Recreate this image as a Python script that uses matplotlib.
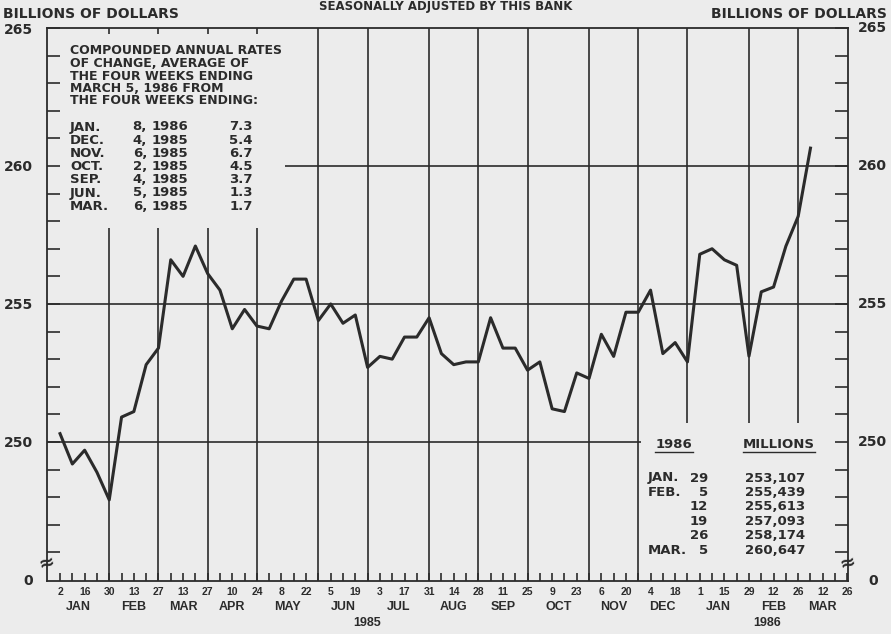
import matplotlib.pyplot as plt
import numpy as np
import pandas as pd
from matplotlib.patches import Rectangle
from matplotlib.lines import Line2D

# valores semanais (bilhoes de dolares), quartas-feiras a partir de 2 jan 1985
semanal = [250.3, 249.2, 249.7, 248.9, 247.9, 250.9, 251.1, 252.8, 253.4, 256.6,
           256.0, 257.1, 256.1, 255.5, 254.1, 254.8, 254.2, 254.1, 255.1, 255.9,
           255.9, 254.4, 255.0, 254.3, 254.6, 252.7, 253.1, 253.0, 253.8, 253.8,
           254.5, 253.2, 252.8, 252.9, 252.9, 254.5, 253.4, 253.4, 252.6, 252.9,
           251.2, 251.1, 252.5, 252.3, 253.9, 253.1, 254.7, 254.7, 255.5, 253.2,
           253.6, 252.9, 256.8, 257.0, 256.6, 256.4]

# tabela 1986 (milhoes)
tab_mes = ['JAN.', 'FEB.', '', '', '', 'MAR.']
tab_dia = [29, 5, 12, 19, 26, 5]
tab_val = [253107, 255439, 255613, 257093, 258174, 260647]

# taxas anuais compostas
taxa_mes = ['JAN.', 'DEC.', 'NOV.', 'OCT.', 'SEP.', 'JUN.', 'MAR.']
taxa_dia = [8, 4, 6, 2, 4, 5, 6]
taxa_ano = [1986, 1985, 1985, 1985, 1985, 1985, 1985]
taxa_val = [7.3, 5.4, 6.7, 4.5, 3.7, 1.3, 1.7]

titulo_caixa = ['COMPOUNDED ANNUAL RATES', 'OF CHANGE, AVERAGE OF',
                'THE FOUR WEEKS ENDING', 'MARCH 5, 1986 FROM',
                'THE FOUR WEEKS ENDING:']

rotulos_y = [250, 255, 260, 265]

valores = semanal + [v / 1000 for v in tab_val]
datas = pd.date_range('1985-01-02', '1986-03-26', freq='7D')
semanas = np.arange(len(datas))

PAPEL = '#ececec'
TINTA = '#2b2b2b'
W, H = 891, 634
NEG = dict(family='DejaVu Sans', weight='bold', color=TINTA)
NAR = dict(family='Liberation Sans', weight='bold', color=TINTA)

fig = plt.figure(figsize=(W / 100, H / 100), dpi=100, facecolor=PAPEL)
ax = fig.add_axes([47 / W, (H - 581) / H, (848 - 47) / W, (581 - 28) / H])
ax.set_facecolor(PAPEL)

def ftext(x, y, s, **kw):
    fig.text(x / W, 1 - y / H, s, **kw)

ax.set_xlim(-1.06, 64.05)
ax.set_ylim(244.96, 265)

# linhas de grade: ultima quarta-feira de cada mes
grade = [i for i in range(len(datas) - 1) if datas[i + 1].month != datas[i].month]
for g in grade:
    ax.axvline(g, color=TINTA, lw=1.2, zorder=1)
for h in rotulos_y[:-1]:
    ax.axhline(h, color=TINTA, lw=1.2, zorder=1)

# areas de texto escondem a grade
ax.add_patch(Rectangle((-0.95, 257.75), 19.25, 7.03, facecolor=PAPEL,
                       edgecolor='none', zorder=1.5))
ax.add_patch(Rectangle((47.2, 244.9), 17, 5.79, facecolor=PAPEL,
                       edgecolor='none', zorder=1.5))

ax.plot(semanas[:len(valores)], valores, color=TINTA, lw=2.2, zorder=3)

for s in ax.spines.values():
    s.set_color(TINTA)
    s.set_linewidth(1.3)

ax.set_yticks(rotulos_y)
ax.set_yticks([v for v in range(246, 265) if v % 5], minor=True)
ax.tick_params(axis='y', which='both', direction='in', left=True, right=True,
               length=9.4, width=1.2, color=TINTA, pad=10, labelsize=10,
               labelcolor=TINTA)
for lab in ax.get_yticklabels():
    lab.set_fontweight('bold')
    lab.set_family('DejaVu Sans')
# rotulos da direita
for v in rotulos_y:
    yp = 28 + (265 - v) / (265 - 244.96) * 553
    ftext(858, yp, str(v), ha='left', va='center', fontsize=10, **NEG)

pares = semanas[::2]
ax.set_xticks(pares)
ax.set_xticklabels([str(datas[i].day) for i in pares])
ax.set_xticks(semanas[1::2], minor=True)
ax.tick_params(axis='x', which='both', direction='in', length=6, width=1.2,
               color=TINTA, pad=4, labelsize=7.5, labelcolor=TINTA)
for lab in ax.get_xticklabels():
    lab.set_fontweight('bold')
    lab.set_family('Liberation Sans')

# meses e anos
limites = [-1] + grade + [len(datas) - 1]
trans = ax.get_xaxis_transform()
for a, b in zip(limites[:-1], limites[1:]):
    ax.text((a + b) / 2, -26 / 553, datas[a + 1].strftime('%b').upper(),
            transform=trans, ha='center', va='center', fontsize=9, **NAR)
anos = sorted(set(d.year for d in datas))
for ano in anos:
    idx = [i for i in range(len(limites) - 1) if datas[limites[i] + 1].year == ano]
    meio = (limites[idx[0]] + limites[idx[-1] + 1]) / 2
    ax.text(meio, -42 / 553, str(ano), transform=trans, ha='center',
            va='center', fontsize=9, **NAR)

# textos de cabecalho
ftext(446, 10, 'SEASONALLY ADJUSTED BY THIS BANK', ha='center', va='baseline',
      fontsize=8.5, **NEG)
ftext(3, 18, 'BILLIONS OF DOLLARS', ha='left', va='baseline', fontsize=10, **NEG)
ftext(887, 18, 'BILLIONS OF DOLLARS', ha='right', va='baseline', fontsize=10, **NEG)
ftext(33, 581, '0', ha='right', va='center', fontsize=10, **NEG)
ftext(873, 581, '0', ha='center', va='center', fontsize=10, **NEG)
ftext(47, 562, '≈', ha='center', va='center', fontsize=14, rotation=15, **NEG)
ftext(848, 562, '≈', ha='center', va='center', fontsize=14, rotation=15, **NEG)

# caixa de taxas
for i, linha in enumerate(titulo_caixa):
    ftext(70, 51 + 12.5 * i, linha, ha='left', va='center', fontsize=9, **NEG)
for i in range(len(taxa_mes)):
    y = 127 + 13.2 * i
    ftext(70, y, taxa_mes[i], ha='left', va='center', fontsize=9.5, **NEG)
    ftext(147, y, f'{taxa_dia[i]},', ha='right', va='center', fontsize=9.5, **NEG)
    ftext(152, y, str(taxa_ano[i]), ha='left', va='center', fontsize=9.5, **NEG)
    ftext(253, y, f'{taxa_val[i]:.1f}', ha='right', va='center', fontsize=9.5, **NEG)

# tabela inferior
ftext(674, 445, '1986', ha='center', va='center', fontsize=9.5, **NEG)
ftext(779, 445, 'MILLIONS', ha='center', va='center', fontsize=9.5, **NEG)
for x0, x1 in [(655, 693), (743, 815)]:
    fig.add_artist(Line2D([x0 / W, x1 / W], [1 - 452 / H] * 2, color=TINTA, lw=1))
for i in range(len(tab_val)):
    y = 478 + 14.4 * i
    ftext(648, y, tab_mes[i], ha='left', va='center', fontsize=9.5, **NEG)
    ftext(708, y, str(tab_dia[i]), ha='right', va='center', fontsize=9.5, **NEG)
    ftext(805, y, f'{tab_val[i]:,}', ha='right', va='center', fontsize=9.5, **NEG)

fig.savefig('out.png', dpi=100, facecolor=PAPEL)
